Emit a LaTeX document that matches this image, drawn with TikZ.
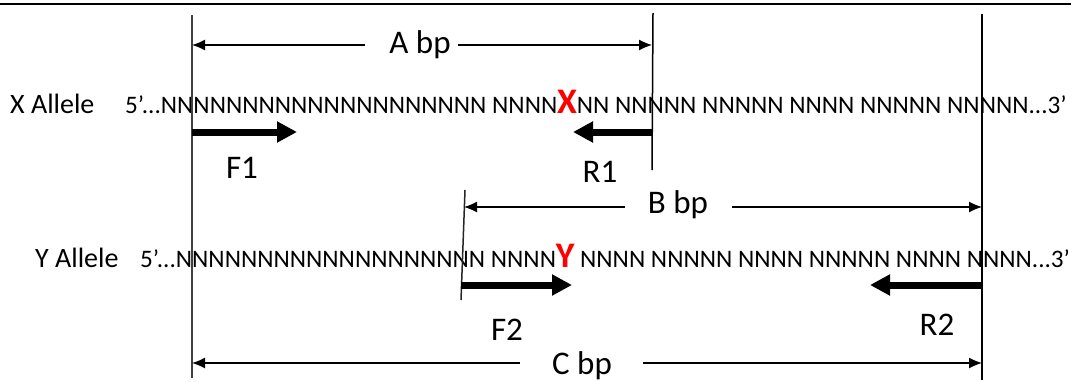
\documentclass[tikz,border=0pt]{standalone}
\usepackage{fontspec}
\setmainfont{Carlito}
\usetikzlibrary{arrows.meta}
\newcommand\redmut[1]{{\fontsize{36}{40}\selectfont\bfseries\color{red}#1}}
\begin{document}
\begin{tikzpicture}[x=1pt,y=-1pt,
  seq/.style={anchor=base west, inner sep=0pt, font=\fontsize{25.2}{29}\selectfont},
  lab/.style={anchor=base, inner sep=0pt, font=\fontsize{33}{38}\selectfont},
  allele/.style={anchor=base west, inner sep=0pt, font=\fontsize{28}{32}\selectfont},
  dimarrow/.style={line width=1.3pt, -{Latex[length=13pt,width=11pt]}},
  primer/.style={line width=7pt, -{Triangle[length=20pt,width=20pt]}},
  guide/.style={line width=1.5pt}]
\useasboundingbox (0,0) rectangle (1083,381);
% top rule
\coordinate (ruleL) at (0,4);
\coordinate (ruleR) at (1071,4);
\draw[line width=2.5pt] (ruleL) -- (ruleR);
% sequences
\node[allele] (xal) at (10,113) {X Allele};
\node[allele] (yal) at (35,267) {Y Allele};
\node[seq] (xseq) at (125,113) {5’...NNNNNNNNNNNNNNNNNNNN NNNN\redmut{X}NN NNNNN NNNNN NNNN NNNNN NNNNN...3\char"0027};
\node[seq] (yseq) at (140,267) {5’...NNNNNNNNNNNNNNNNNNN NNNN\redmut{Y} NNNN NNNNN NNNN NNNNN NNNN NNNN...3’};
% vertical guides
\coordinate (v1t) at (192,15); \coordinate (v1b) at (192,378);
\coordinate (v2t) at (653,13); \coordinate (v2b) at (652,170);
\coordinate (v3t) at (982,14); \coordinate (v3b) at (982,380);
\coordinate (v4t) at (465,190); \coordinate (v4b) at (461,300);
\draw[guide, line width=2pt, black!75] (v1t) -- (v1b);
\draw[guide] (v2t) -- (v2b);
\draw[guide] (v3t) -- (v3b);
\draw[guide, black!85] (v4t) -- (v4b);
% dimension labels
\node[lab] (Alab) at (420,53) {A bp};
\node[lab] (Blab) at (678,213) {B bp};
\node[lab] (Clab) at (582,374) {C bp};
\coordinate (aL) at (192,45); \coordinate (aLt) at (365,45);
\coordinate (aR) at (652,45); \coordinate (aRt) at (458,45);
\coordinate (bL) at (464,207); \coordinate (bLt) at (625,207);
\coordinate (bR) at (982,207); \coordinate (bRt) at (732,207);
\coordinate (cL) at (192,363); \coordinate (cLt) at (520,363);
\coordinate (cR) at (982,363); \coordinate (cRt) at (643,363);
\draw[dimarrow] (aLt) -- (aL);
\draw[dimarrow] (aRt) -- (aR);
\draw[dimarrow] (bLt) -- (bL);
\draw[dimarrow] (bRt) -- (bR);
\draw[dimarrow] (cLt) -- (cL);
\draw[dimarrow] (cRt) -- (cR);
% primers
\coordinate (f1s) at (192,132); \coordinate (f1e) at (297,132);
\coordinate (r1s) at (652,132); \coordinate (r1e) at (573,132);
\coordinate (f2s) at (461,285); \coordinate (f2e) at (572,285);
\coordinate (r2s) at (982,285); \coordinate (r2e) at (870,285);
\draw[primer] (f1s) -- (f1e);
\draw[primer] (r1s) -- (r1e);
\draw[primer] (f2s) -- (f2e);
\draw[primer] (r2s) -- (r2e);
\node[lab] (F1) at (242,178) {F1};
\node[lab] (R1) at (600,182) {R1};
\node[lab] (F2) at (507,340) {F2};
\node[lab] (R2) at (937,335) {R2};
\end{tikzpicture}
\end{document}
